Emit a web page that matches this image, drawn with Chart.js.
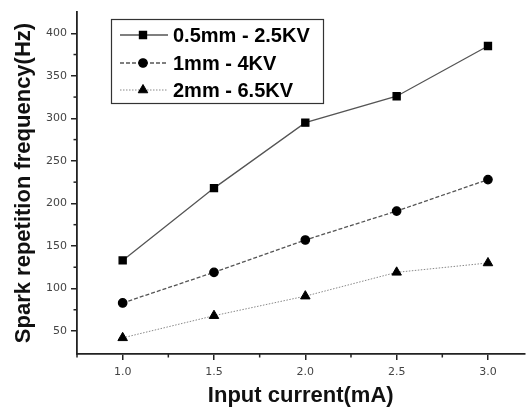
<!DOCTYPE html>
<html><head><meta charset="utf-8">
<script src="https://cdn.jsdelivr.net/npm/chart.js@4"></script>
<style>html,body{margin:0;padding:0;background:#fff}#wrap{width:531px;height:411px;position:relative}</style>
</head><body>
<div id="wrap"><canvas id="c" width="531" height="411"></canvas></div>
<script>
const inputCurrent = [1.0, 1.5, 2.0, 2.5, 3.0];
const freq05mm = [133, 218, 295, 326, 385];
const freq1mm = [83, 119, 157, 191, 228];
const freq2mm = [42, 68, 91, 119, 130];
const seriesLabels = ['0.5mm - 2.5KV', '1mm - 4KV', '2mm - 6.5KV'];
const xTickValues = [0.75, 1.0, 1.25, 1.5, 1.75, 2.0, 2.25, 2.5, 2.75, 3.0];
const xTickLabels = ['', '1.0', '', '1.5', '', '2.0', '', '2.5', '', '3.0'];
const yTickValues = [50, 75, 100, 125, 150, 175, 200, 225, 250, 275, 300, 325, 350, 375, 400];
const yTickLabels = ['50', '', '100', '', '150', '', '200', '', '250', '', '300', '', '350', '', '400'];
const xTitle = 'Input current(mA)';
const yTitle = 'Spark repetition frequency(Hz)';

const toPts = arr => inputCurrent.map((x, i) => ({x: x, y: arr[i]}));
const AX = '#222';
const tickFont = {family: '"DejaVu Sans", sans-serif', size: 11};
const titleFont = {family: '"Liberation Sans", Arial, sans-serif', size: 22, weight: 'bold'};

const minorTicks = {
  id: 'minorTicks',
  afterDraw(chart) {
    const ctx = chart.ctx, xs = chart.scales.x, ys = chart.scales.y;
    ctx.save();
    ctx.strokeStyle = AX; ctx.lineWidth = 1.5;
    xTickValues.forEach((v, i) => {
      if (xTickLabels[i]) return;
      const px = xs.getPixelForValue(v);
      ctx.beginPath(); ctx.moveTo(px, xs.top); ctx.lineTo(px, xs.top + 3.5); ctx.stroke();
    });
    yTickValues.forEach((v, i) => {
      if (yTickLabels[i]) return;
      const py = ys.getPixelForValue(v);
      ctx.beginPath(); ctx.moveTo(ys.right, py); ctx.lineTo(ys.right - 3.5, py); ctx.stroke();
    });
    ctx.restore();
  }
};

const boxLegend = {
  id: 'boxLegend',
  afterDraw(chart) {
    const ctx = chart.ctx;
    const x0 = 111, y0 = 19, w = 212, h = 84;
    ctx.save();
    ctx.fillStyle = '#fff';
    ctx.fillRect(x0, y0, w, h);
    ctx.strokeStyle = '#333'; ctx.lineWidth = 1.2;
    ctx.strokeRect(x0 + 0.5, y0 + 0.5, w, h);
    const rows = [35, 63, 90];
    chart.data.datasets.forEach((ds, i) => {
      const yy = rows[i];
      ctx.strokeStyle = ds.borderColor; ctx.lineWidth = ds.borderWidth;
      ctx.setLineDash(ds.borderDash || []);
      ctx.beginPath(); ctx.moveTo(120, yy); ctx.lineTo(168, yy); ctx.stroke();
      ctx.setLineDash([]);
      ctx.fillStyle = '#000'; ctx.strokeStyle = '#000';
      Chart.helpers.drawPoint(ctx, {pointStyle: ds.pointStyle, radius: ds.pointRadius, rotation: 0, borderWidth: 1}, 143, yy);
      ctx.fillStyle = '#000';
      ctx.font = 'bold 20px "Liberation Sans", Arial, sans-serif';
      ctx.textBaseline = 'middle'; ctx.textAlign = 'left';
      ctx.fillText(ds.label, 173, yy + 1);
    });
    ctx.restore();
  }
};

new Chart(document.getElementById('c'), {
  type: 'line',
  data: {
    datasets: [
      {label: seriesLabels[0], data: toPts(freq05mm), borderColor: '#555', borderWidth: 1.3,
       pointStyle: 'rect', pointRadius: 5, pointBackgroundColor: '#000', pointBorderColor: '#000'},
      {label: seriesLabels[1], data: toPts(freq1mm), borderColor: '#555', borderWidth: 1.3, borderDash: [4, 2],
       pointStyle: 'circle', pointRadius: 4.2, pointBackgroundColor: '#000', pointBorderColor: '#000'},
      {label: seriesLabels[2], data: toPts(freq2mm), borderColor: '#888', borderWidth: 1, borderDash: [1.5, 1.5],
       pointStyle: 'triangle', pointRadius: 5.5, pointBackgroundColor: '#000', pointBorderColor: '#000'}
    ]
  },
  options: {
    responsive: false, animation: false,
    layout: {padding: {top: 12, right: 0, left: 0, bottom: 0}},
    plugins: {legend: {display: false}, tooltip: {enabled: false}},
    scales: {
      x: {
        type: 'linear', min: 0.75, max: 3.2,
        afterBuildTicks: s => { s.ticks = xTickValues.map(v => ({value: v})); },
        afterFit: s => { s.height = 57; },
        ticks: {autoSkip: false, maxRotation: 0, color: '#444', font: tickFont, padding: 6,
                callback: (v, i) => xTickLabels[i]},
        grid: {display: true, drawOnChartArea: false, tickLength: 6, lineWidth: 1.5,
               tickColor: c => (xTickLabels[c.index] ? AX : 'rgba(0,0,0,0)')},
        border: {display: true, color: AX, width: 1.8},
        title: {display: true, text: xTitle, color: '#111', font: titleFont, padding: {top: 0, bottom: 2}}
      },
      y: {
        type: 'linear', min: 23, max: 425,
        afterBuildTicks: s => { s.ticks = yTickValues.map(v => ({value: v})); },
        afterFit: s => { s.width = 77; },
        ticks: {autoSkip: false, color: '#444', font: tickFont, padding: 4,
                callback: (v, i) => yTickLabels[i]},
        grid: {display: true, drawOnChartArea: false, tickLength: 6, lineWidth: 1.5,
               tickColor: c => (yTickLabels[c.index] ? AX : 'rgba(0,0,0,0)')},
        border: {display: true, color: AX, width: 1.8},
        title: {display: true, text: yTitle, color: '#111', font: titleFont, padding: {top: 11, bottom: 0}}
      }
    }
  },
  plugins: [minorTicks, boxLegend]
});
</script>
</body></html>
